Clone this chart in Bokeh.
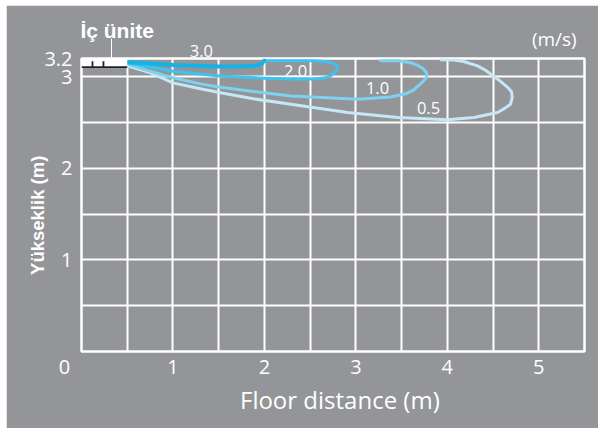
import math
from bokeh.plotting import figure
from bokeh.models import Range1d, FixedTicker, Label, AllLabels, LinearAxis
from bokeh.embed import file_html
from bokeh.resources import INLINE

# ---- data ----
x_ticks = [0, 1, 2, 3, 4, 5]
x_tick_labels = {0: "0\u2007\u2007\u2007", 1: "1", 2: "2", 3: "3", 4: "4", 5: "5"}
y_ticks = [1, 2, 3, 3.2]
y_tick_labels = {1: "1", 2: "2", 3: "3", 3.2: "3.2"}
x_grid = [0.5, 1, 1.5, 2, 2.5, 3, 3.5, 4, 4.5, 5]
y_grid = [0.5, 1, 1.5, 2, 2.5, 3]

v30_x = [0.50, 0.75, 1.00, 1.25, 1.50, 1.75, 1.90, 1.97, 2.00]
v30_y = [3.16, 3.145, 3.13, 3.12, 3.113, 3.113, 3.12, 3.14, 3.18]

v20_x = [0.50, 0.75, 1.00, 1.50, 2.00, 2.30, 2.55, 2.668, 2.723, 2.777, 2.80, 2.788, 2.723, 2.635, 2.55, 2.20, 2.00]
v20_y = [3.15, 3.11, 3.06, 3.01, 2.985, 2.975, 2.975, 2.989, 3.011, 3.055, 3.095, 3.131, 3.156, 3.169, 3.175, 3.175, 3.175]

v10_x = [0.50, 0.75, 1.00, 1.30, 1.52, 1.88, 2.29, 3.02, 3.38, 3.543, 3.63, 3.707, 3.773, 3.773, 3.74, 3.685, 3.63, 3.543, 3.46, 3.27]
v10_y = [3.14, 3.06, 2.99, 2.923, 2.885, 2.84, 2.79, 2.756, 2.78, 2.814, 2.855, 2.923, 2.99, 3.044, 3.085, 3.12, 3.145, 3.164, 3.175, 3.175]

v05_x = [0.50, 0.755, 1.00, 1.30, 1.52, 1.88, 2.29, 2.91, 3.46, 4.00, 4.29, 4.55, 4.636, 4.69, 4.71, 4.702, 4.66, 4.582, 4.50, 4.418, 4.33, 4.18, 4.07, 3.93]
v05_y = [3.12, 3.044, 2.934, 2.869, 2.825, 2.76, 2.70, 2.61, 2.555, 2.53, 2.555, 2.61, 2.661, 2.70, 2.775, 2.836, 2.885, 2.951, 3.01, 3.071, 3.12, 3.167, 3.183, 3.186]

speed_labels = ["2.0", "1.0", "0.5"]
speed_label_x = [2.34, 3.237, 3.794]
speed_label_y = [3.065, 2.883, 2.661]
top_label_x = 1.31          # "3.0" on the top border
unit_label_x = 0.39         # "İç ünite"
unit_leader_x = 0.33
mps_label_x = 5.17          # "(m/s)"

GRAY = "#939598"
FONT = "Open Sans"

p = figure(width=592, height=423, output_backend="svg", toolbar_location=None,
           x_range=Range1d(0, 5.5), y_range=Range1d(0, 3.2),
           min_border_left=75, min_border_right=14, min_border_top=53, min_border_bottom=77)
p.background_fill_color = GRAY
p.border_fill_color = GRAY
p.outline_line_color = "white"
p.outline_line_width = 2.5

# small spacer at the very top (the title slot)
p.title.text = "\u2007"
p.title.text_font_size = "5px"
p.title.text_color = GRAY
p.title.standoff = 0

# grids
p.xgrid.ticker = FixedTicker(ticks=x_grid)
p.ygrid.ticker = FixedTicker(ticks=y_grid)
for g in (p.xgrid, p.ygrid):
    g.grid_line_color = "white"
    g.grid_line_width = 2
    g.grid_line_alpha = 1


def plain_axis(ax, size):
    ax.axis_line_color = None
    ax.major_tick_line_color = None
    ax.minor_tick_line_color = None
    ax.major_tick_out = 0
    ax.major_tick_in = 0
    ax.minor_tick_out = 0
    ax.minor_tick_in = 0
    ax.major_label_text_color = "white"
    ax.major_label_text_font = FONT
    ax.major_label_text_font_size = size
    ax.major_label_policy = AllLabels()
    ax.axis_label_text_color = "white"


# main axes
p.xaxis.ticker = FixedTicker(ticks=x_ticks)
p.xaxis.major_label_overrides = x_tick_labels
p.yaxis.ticker = FixedTicker(ticks=y_ticks)
p.yaxis.major_label_overrides = y_tick_labels
plain_axis(p.xaxis[0], "20px")
plain_axis(p.yaxis[0], "20px")
p.xaxis.major_label_standoff = 1
p.yaxis.major_label_standoff = 9
p.xaxis.axis_label = "\u2007Floor distance (m)"
p.xaxis.axis_label_text_font = FONT
p.xaxis.axis_label_text_font_style = "normal"
p.xaxis.axis_label_text_font_size = "24px"
p.xaxis.axis_label_standoff = 0
p.yaxis.axis_label = "Yükseklik (m)\u2007\u2007"
p.yaxis.axis_label_text_font = "Liberation Sans"
p.yaxis.axis_label_text_font_style = "bold"
p.yaxis.axis_label_text_font_size = "18.5px"
p.yaxis.axis_label_standoff = -7

# axes above the frame carry the texts that sit outside it
ax_a = LinearAxis(ticker=FixedTicker(ticks=[top_label_x]), major_label_overrides={top_label_x: "3.0"})
plain_axis(ax_a, "16.5px")
ax_a.major_label_standoff = 2
p.add_layout(ax_a, "above")

ax_b = LinearAxis(ticker=FixedTicker(ticks=[mps_label_x], minor_ticks=[unit_leader_x]),
                  major_label_overrides={mps_label_x: "(m/s)"})
plain_axis(ax_b, "19px")
ax_b.major_label_standoff = -13
ax_b.minor_tick_line_color = "white"
ax_b.minor_tick_line_width = 1
ax_b.minor_tick_in = 18
ax_b.minor_tick_out = 3
p.add_layout(ax_b, "above")

ax_c = LinearAxis(ticker=FixedTicker(ticks=[unit_label_x]), major_label_overrides={unit_label_x: "İç ünite"})
plain_axis(ax_c, "21px")
ax_c.major_label_text_font = "Liberation Sans"
ax_c.major_label_text_font_style = "bold"
ax_c.major_label_standoff = -19
p.add_layout(ax_c, "above")

# curves
p.line(v05_x, v05_y, line_color="#c4e8f6", line_width=3, line_join="round", line_cap="round")
p.line(v10_x, v10_y, line_color="#7dd2f1", line_width=3, line_join="round", line_cap="round")
p.line(v20_x, v20_y, line_color="#3cc3ef", line_width=3, line_join="round", line_cap="round")
p.line(v30_x, v30_y, line_color="#14b2e8", line_width=4, line_join="round", line_cap="round")

# indoor unit
p.quad(left=0, right=0.5, bottom=3.10, top=3.2, fill_color="white", line_color=None)
p.segment(x0=[0, 0.12, 0.24], y0=[3.105, 3.105, 3.105], x1=[0.5, 0.12, 0.24], y1=[3.105, 3.17, 3.17],
          line_color="#222222", line_width=1.8)

# speed labels inside the frame
for t, lx, ly in zip(speed_labels, speed_label_x, speed_label_y):
    p.add_layout(Label(x=lx, y=ly, text=t, text_align="center", text_baseline="middle",
                       text_color="white", text_font=FONT, text_font_size="16.5px"))

html = file_html(p, INLINE)
html = html.replace("</head>", "<style>body{padding:5px 0 0 6px !important;}</style></head>", 1)
open("out.html", "w").write(html)
